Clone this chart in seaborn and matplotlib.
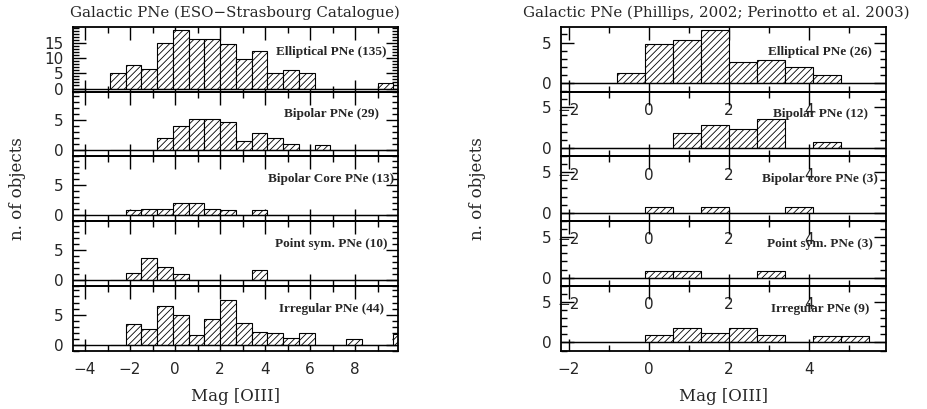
import numpy as np
import pandas as pd
import matplotlib
matplotlib.use("Agg")
import matplotlib.pyplot as plt
import matplotlib.transforms as mtransforms
from matplotlib.ticker import MultipleLocator, FixedLocator
import seaborn as sns

# ---------------- data ----------------
BIN_EDGES = [-2.9, -2.2, -1.5, -0.8, -0.1, 0.6, 1.3, 2.0, 2.7, 3.4, 4.1,
             4.8, 5.5, 6.2, 6.9, 7.6, 8.3, 9.0, 9.7, 10.4]

# ESO-Strasbourg catalogue (left column), one value per bin
eso_elliptical = [5.0, 7.8, 6.4, 15.1, 19.2, 16.2, 16.4, 14.5, 9.7, 12.4, 5.2,
                  6.0, 5.0, 0, 0, 0, 0, 1.9, 0]
eso_bipolar = [0, 0, 0, 2.1, 4.0, 5.1, 5.1, 4.7, 1.55, 2.8, 2.05,
               1.0, 0, 0.85, 0, 0, 0, 0, 0]
eso_bipolar_core = [0, 0.83, 0.95, 1.1, 1.95, 1.95, 1.1, 0.83, 0, 0.83, 0,
                    0, 0, 0, 0, 0, 0, 0, 0]
eso_point_sym = [0, 1.1, 3.6, 2.1, 0.95, 0, 0, 0, 0, 1.67, 0,
                 0, 0, 0, 0, 0, 0, 0, 0]
eso_irregular = [0, 3.5, 2.6, 6.5, 5.0, 1.67, 4.2, 7.4, 3.55, 2.2, 2.05,
                 1.2, 1.9, 0, 0, 0.9, 0, 0, 1.8]

# Phillips 2002 / Perinotto et al. 2003 (right column)
ph_elliptical = [0, 0, 0, 1.3, 4.8, 5.3, 6.55, 2.55, 2.8, 1.93, 0.95,
                 0, 0, 0, 0, 0, 0, 0, 0]
ph_bipolar = [0, 0, 0, 0, 0, 1.9, 2.84, 2.3, 3.54, 0, 0.7,
              0, 0, 0, 0, 0, 0, 0, 0]
ph_bipolar_core = [0, 0, 0, 0, 0.7, 0, 0.7, 0, 0, 0.7, 0,
                   0, 0, 0, 0, 0, 0, 0, 0]
ph_point_sym = [0, 0, 0, 0, 0.82, 0.82, 0, 0, 0.82, 0, 0,
                0, 0, 0, 0, 0, 0, 0, 0]
ph_irregular = [0, 0, 0, 0, 0.95, 1.77, 1.15, 1.77, 0.95, 0, 0.86,
                0.86, 0, 0, 0, 0, 0, 0, 0]

left_labels = ["Elliptical PNe (135)", "Bipolar PNe (29)", "Bipolar Core PNe (13)",
               "Point sym. PNe (10)", "Irregular PNe (44)"]
right_labels = ["Elliptical PNe (26)", "Bipolar PNe (12)", "Bipolar core PNe (3)",
                "Point sym. PNe (3)", "Irregular PNe (9)"]
left_series = [eso_elliptical, eso_bipolar, eso_bipolar_core, eso_point_sym, eso_irregular]
right_series = [ph_elliptical, ph_bipolar, ph_bipolar_core, ph_point_sym, ph_irregular]

top_left_yticks = [0, 5, 10, 15]
other_yticks = [0, 5]

left_title = "Galactic PNe (ESO\u2212Strasbourg Catalogue)"
right_title = "Galactic PNe (Phillips, 2002; Perinotto et al. 2003)"
xlabel = "Mag [OIII]"
ylabel = "n. of objects"

# ---------------- style ----------------
sns.set_theme(style="ticks")
plt.rcParams['font.family'] = ['DejaVu Sans']
plt.rcParams['hatch.linewidth'] = 0.6
plt.rcParams['axes.unicode_minus'] = True

W, H = 927, 409
fig = plt.figure(figsize=(W / 100, H / 100), dpi=100)

centers = [(a + b) / 2 for a, b in zip(BIN_EDGES[:-1], BIN_EDGES[1:])]

top_px, bot_px = 26.7, 351.0
panel_h = (bot_px - top_px) / 5

columns = [
    dict(x0=73.3, x1=398.0, xlim=(-4.52, 9.9), series=left_series, labels=left_labels,
         text_x=6.93, title=left_title, title_x=235, ylabel_x=18,
         ylims=[(-1, 20.3)] + [(-1, 9.7)] * 4, inner_xlabels=False,
         yticks=[top_left_yticks] + [other_yticks] * 4),
    dict(x0=561.0, x1=886.3, xlim=(-2.2, 5.93), series=right_series, labels=right_labels,
         text_x=4.28, title=right_title, title_x=716, ylabel_x=478,
         ylims=[(-1.05, 6.95)] * 5, inner_xlabels=True,
         yticks=[other_yticks] * 5),
]

for col in columns:
    for i in range(5):
        y_top = top_px + i * panel_h
        rect = [col['x0'] / W, 1 - (y_top + panel_h) / H,
                (col['x1'] - col['x0']) / W, panel_h / H]
        ax = fig.add_axes(rect)
        ax.set_facecolor('none')
        df = pd.DataFrame({'mag': centers, 'n': col['series'][i]})
        sns.histplot(data=df, x='mag', weights='n', bins=list(BIN_EDGES), ax=ax,
                     color='white', edgecolor='black', linewidth=0.8, alpha=1)
        for p in ax.patches:
            p.set_hatch('/////')
            p.set_facecolor('white')
            p.set_edgecolor('black')
        ax.axhline(0, color='black', lw=1.0, zorder=3)
        ax.set_xlim(*col['xlim'])
        ax.set_ylim(*col['ylims'][i])
        ax.set_xlabel('')
        ax.set_ylabel('')
        ax.xaxis.set_major_locator(MultipleLocator(2))
        ax.xaxis.set_minor_locator(MultipleLocator(1))
        ax.yaxis.set_major_locator(FixedLocator(col['yticks'][i]))
        ax.yaxis.set_minor_locator(MultipleLocator(1))
        ax.tick_params(which='both', direction='in', top=True, right=True,
                       width=1.0, color='black')
        ax.tick_params(which='major', length=9)
        ax.tick_params(which='minor', length=4.5)
        ax.tick_params(axis='y', labelsize=11, pad=7)
        ax.tick_params(axis='x', labelsize=11, pad=8)
        show_x = (i == 4) or col['inner_xlabels']
        ax.tick_params(axis='x', labelbottom=show_x)
        for s in ax.spines.values():
            s.set_linewidth(1.3)
            s.set_color('black')
        trans = mtransforms.blended_transform_factory(ax.transData, ax.transAxes)
        yfrac = 0.615 if i == 0 else 0.655
        ax.text(col['text_x'], yfrac, col['labels'][i], transform=trans,
                ha='center', va='center', fontsize=9.5, fontweight='bold',
                family=['Liberation Serif'], zorder=5)
        if i == 4:
            ax.set_xlabel(xlabel, fontsize=12, family=['DejaVu Serif'], labelpad=8)
    fig.text(col['title_x'] / W, 1 - 13.3 / H, col['title'], ha='center', va='center',
             fontsize=10.8, family=['DejaVu Serif'])
    fig.text(col['ylabel_x'] / W, 1 - 189 / H, ylabel, ha='center', va='center',
             rotation=90, fontsize=12, family=['DejaVu Serif'])

fig.savefig('out.png', dpi=100)
